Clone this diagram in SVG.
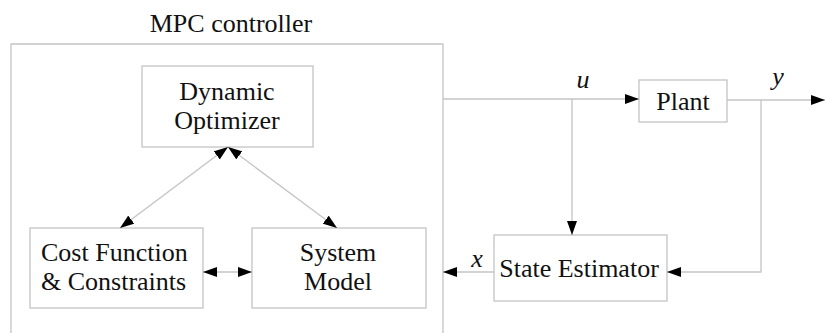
<svg xmlns="http://www.w3.org/2000/svg" width="825" height="333" viewBox="0 0 825 333">
<style>
.box{fill:#fff;stroke:#c4c4c4;stroke-width:1.3}
.ln{fill:none;stroke:#c4c4c4;stroke-width:1.3}
text{font-family:Liberation Serif,serif;font-size:26px;fill:#111}
.c{text-anchor:middle}
.i{font-style:italic}
</style>
<defs>
<marker id="ah" viewBox="0 0 14 10" refX="14" refY="5" markerWidth="14" markerHeight="10" markerUnits="userSpaceOnUse" orient="auto-start-reverse">
<path d="M0,0 L14,5 L0,10 z" fill="#000"/>
</marker>
</defs>
<rect width="825" height="333" fill="#fff"/>
<g id="mpc">
<path class="ln" d="M11,333 V44 H443 V333"/>
<text x="231" y="32" class="c">MPC controller</text>
</g>
<g id="optimizer">
<rect class="box" x="142" y="66" width="171" height="81"/>
<text x="227" y="100" class="c">Dynamic</text>
<text x="227" y="129" class="c">Optimizer</text>
</g>
<g id="cost">
<rect class="box" x="30" y="228" width="173" height="80"/>
<text x="41" y="261">Cost Function</text>
<text x="41" y="290">&amp; Constraints</text>
</g>
<g id="model">
<rect class="box" x="252" y="228" width="174" height="80"/>
<text x="338" y="261" class="c">System</text>
<text x="338" y="290" class="c">Model</text>
</g>
<g id="plant">
<rect class="box" x="639" y="80" width="88" height="42"/>
<text x="683" y="110" class="c">Plant</text>
</g>
<g id="estimator">
<rect class="box" x="494" y="235" width="173" height="66"/>
<text x="579" y="277" class="c">State Estimator</text>
</g>
<g id="connectors">
<line class="ln" x1="228" y1="147" x2="120" y2="228" marker-start="url(#ah)" marker-end="url(#ah)"/>
<line class="ln" x1="228" y1="147" x2="337" y2="228" marker-start="url(#ah)" marker-end="url(#ah)"/>
<line class="ln" x1="203" y1="272" x2="252" y2="272" marker-start="url(#ah)" marker-end="url(#ah)"/>
<line class="ln" x1="443" y1="99" x2="639" y2="99" marker-end="url(#ah)"/>
<line class="ln" x1="572" y1="99" x2="572" y2="235" marker-end="url(#ah)"/>
<line class="ln" x1="727" y1="100" x2="825" y2="100" marker-end="url(#ah)"/>
<path class="ln" d="M761,100 V272 H667" marker-end="url(#ah)"/>
<line class="ln" x1="494" y1="272" x2="443" y2="272" marker-end="url(#ah)"/>
<text x="583" y="88" class="c i">u</text>
<text x="778" y="85" class="c i">y</text>
<text x="477" y="267" class="c i">x</text>
</g>
</svg>
